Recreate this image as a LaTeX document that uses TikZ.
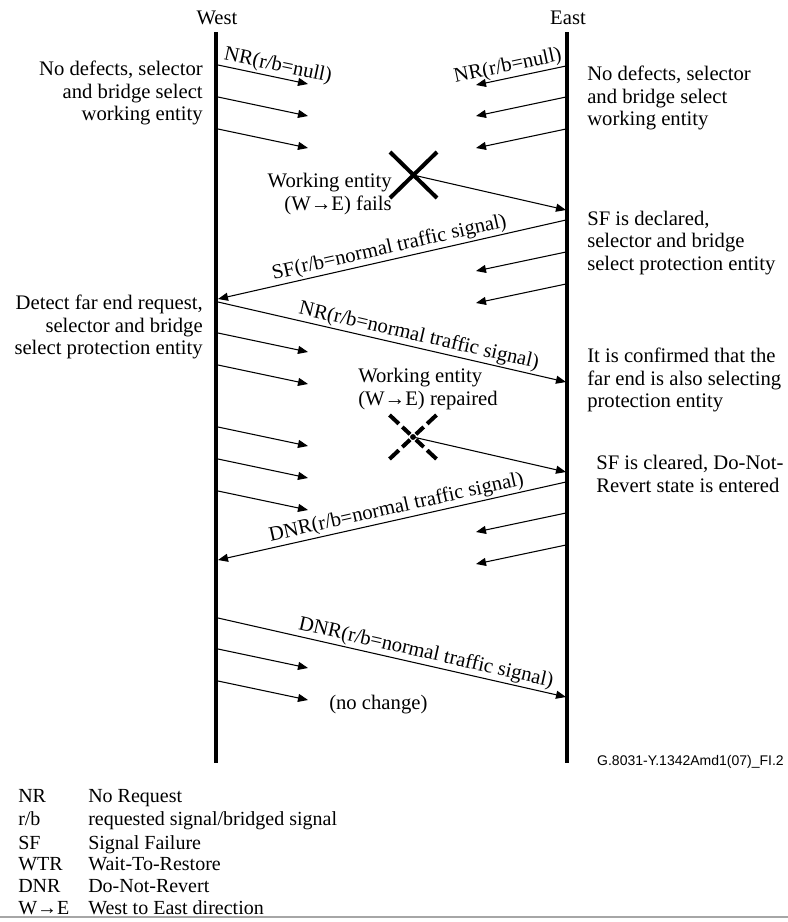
\documentclass[tikz,border=0pt]{standalone}
\usepackage{fontspec}
\setmainfont{Liberation Serif}
\setsansfont{Liberation Sans}
\usetikzlibrary{arrows.meta,positioning}

\newcommand{\notefont}{\rmfamily\fontsize{15.5}{17}\selectfont}

\tikzset{
        lifeline/.style={line width=3.2pt},
        msg/.style={line width=0.8pt, -{Triangle[length=7.5pt, width=6pt]}},
        note/.style={inner sep=0pt, font=\notefont},
        lbl/.style={sloped, above, inner sep=1.2pt, font=\notefont},
        legend/.style={inner sep=0pt, anchor=base west, font=\rmfamily\fontsize{15}{17}\selectfont},
}

\begin{document}
\begin{tikzpicture}[x=0.75pt, y=-0.75pt]
        \useasboundingbox (0,0) rectangle (788,922);

        % the two ends and their lifelines
        \node[note] (westlbl) at (217,18) {West};
        \node[note] (eastlbl) at (568,18) {East};
        \coordinate (wtop) at (216,32);
        \coordinate (wbot) at (216,763);
        \coordinate (etop) at (567,32);
        \coordinate (ebot) at (567,763);
        \draw[lifeline] (wtop) -- (wbot);
        \draw[lifeline, line width=2.8pt] (etop) -- (ebot);

        % short messages sent by West
        \foreach \y [count=\i] in {65,97,129,333,365,427,459,491,649,681} {
                \coordinate (wa\i) at (218,\y);
                \coordinate (wb\i) at (308,\y+19);
                \draw[msg] (wa\i) -- (wb\i);
        }
        % short messages sent by East
        \foreach \y [count=\i] in {66,97,129,252,284,513,545} {
                \coordinate (ea\i) at (566,\y);
                \coordinate (eb\i) at (476,\y+19);
                \draw[msg] (ea\i) -- (eb\i);
        }
        \path (wa1) -- node[lbl, pos=0.64] {NR(r/b=null)} (wb1);
        \path (ea1) -- node[lbl, pos=0.62] {NR(r/b=null)} (eb1);

        % failure of the working entity
        \coordinate (fail) at (413,175);
        \draw[line width=3pt] (390,152) -- (437,198) (437,152) -- (390,198);
        \coordinate (e1) at (566,210);
        \draw[msg] (fail) -- (e1);

        \coordinate (e2) at (566,220);
        \coordinate (w2) at (218,299);
        \draw[msg] (e2) -- node[lbl, pos=0.5] {SF(r/b=normal traffic signal)} (w2);
        \coordinate (w3) at (218,302);
        \coordinate (e3) at (566,382);
        \draw[msg] (w3) -- node[lbl, pos=0.57] {NR(r/b=normal traffic signal)} (e3);

        % repair of the working entity
        \coordinate (repair) at (413,437);
        \foreach \dx/\dy in {-23.5/-22, 23.5/-22, -23.5/22, 23.5/22}
                \draw[line width=3pt, dash pattern=on 0pt off 3pt on 8pt off 3.5pt on 8pt]
                        (repair) -- ++(\dx,\dy);
        \fill (repair) circle (2.2pt);
        \coordinate (e4) at (566,472);
        \draw[msg] (repair) -- (e4);

        \coordinate (e5) at (566,482);
        \coordinate (w5) at (218,560);
        \draw[msg] (e5) -- node[lbl, pos=0.48] {DNR(r/b=normal traffic signal)} (w5);
        \coordinate (w6) at (218,618);
        \coordinate (e6) at (566,697);
        \draw[msg] (w6) -- node[lbl, pos=0.59] {DNR(r/b=normal traffic signal)} (e6);

        % state notes
        \node[note, align=right, anchor=east] (wnote1) at (203,93)
                {No defects, selector\\and bridge select\\working entity};
        \node[note, align=left, anchor=west] (enote1) at (587,98)
                {No defects, selector\\and bridge select\\working entity};
        \node[note, align=right, anchor=east] (failnote) at (392,194)
                {Working entity\\(W→E) fails};
        \node[note, align=left, anchor=west] (enote2) at (587,243)
                {SF is declared,\\selector and bridge\\select protection entity};
        \node[note, align=right, anchor=east] (wnote2) at (203,327)
                {Detect far end request,\\selector and bridge\\select protection entity};
        \node[note, align=left, anchor=west] (enote3) at (587,380)
                {It is confirmed that the\\far end is also selecting\\protection entity};
        \node[note, align=left, anchor=west] (repairnote) at (358,389)
                {Working entity\\(W→E) repaired};
        \node[note, align=left, anchor=west] (enote4) at (596,474)
                {SF is cleared, Do-Not-\\Revert state is entered};
        \node[note, anchor=west] (wnote3) at (329,705) {(no change)};

        \node[inner sep=0pt, anchor=east, font=\sffamily\fontsize{10.5}{12}\selectfont] (figid)
                at (784,762) {G.8031-Y.1342Amd1(07)\_FI.2};

        % abbreviations
        \foreach \y/\abbr/\desc [count=\i] in {795/NR/No Request,
                        818/{r/b}/{requested signal/bridged signal},
                        842/SF/Signal Failure, 863/WTR/Wait-To-Restore,
                        885/DNR/Do-Not-Revert, 907/{W→E}/West to East direction} {
                \node[legend] (abbr\i) at (18,\y+7) {\abbr};
                \node[legend] (desc\i) at (88,\y+7) {\desc};
        }
        \draw[gray!70, line width=1pt] (0,917) -- (788,917);
\end{tikzpicture}
\end{document}
